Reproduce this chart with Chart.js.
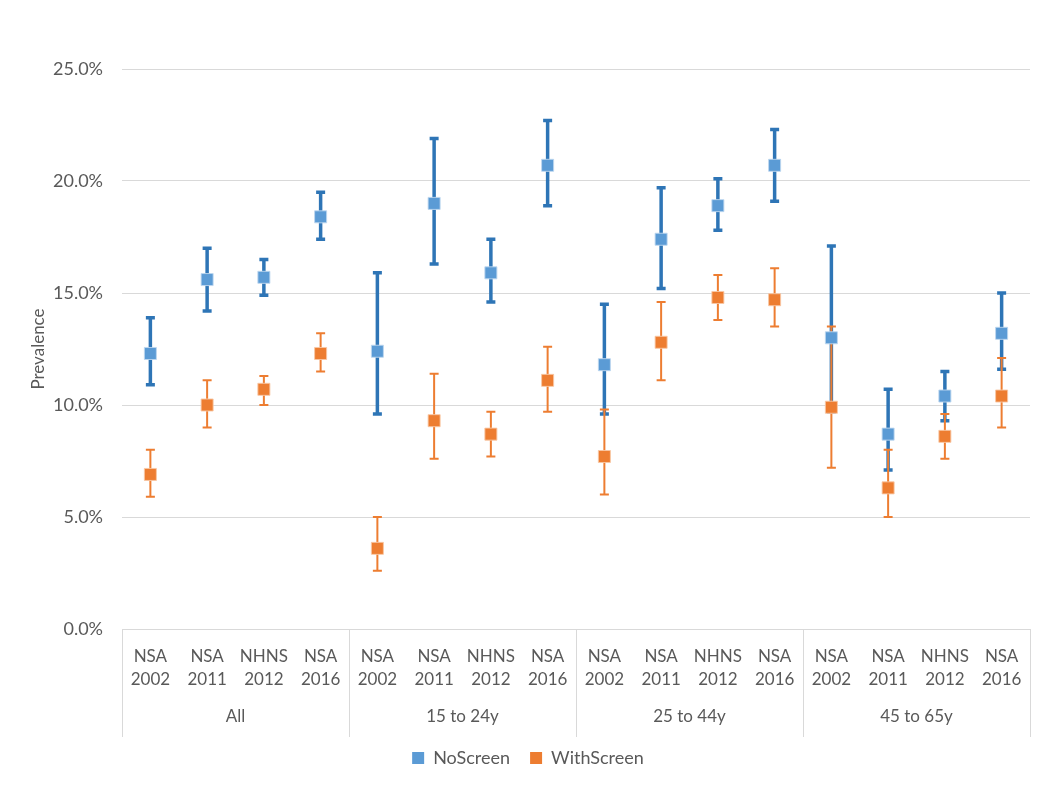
<!DOCTYPE html>
<html>
<head>
<meta charset="utf-8">
<script src="https://cdn.jsdelivr.net/npm/chart.js@4.4.1/dist/chart.umd.min.js"></script>
<style>
  html, body { margin: 0; padding: 0; background: #ffffff; }
  #wrap { width: 1050px; height: 787px; position: relative; }
</style>
</head>
<body>
<div id="wrap"><canvas id="c" width="1050" height="787"></canvas></div>
<script>
const groups = ['All', '15 to 24y', '25 to 44y', '45 to 65y'];
const surveys = [['NSA', '2002'], ['NSA', '2011'], ['NHNS', '2012'], ['NSA', '2016']];
const categories = groups.flatMap(() => surveys.map(s => s.slice()));
const yTicks = [0, 5, 10, 15, 20, 25];

const noScreen      = [12.3, 15.6, 15.7, 18.4, 12.4, 19.0, 15.9, 20.7, 11.8, 17.4, 18.9, 20.7, 13.0, 8.7, 10.4, 13.2];
const noScreenLow   = [10.9, 14.2, 14.9, 17.4,  9.6, 16.3, 14.6, 18.9,  9.6, 15.2, 17.8, 19.1,  9.7, 7.1,  9.3, 11.6];
const noScreenHigh  = [13.9, 17.0, 16.5, 19.5, 15.9, 21.9, 17.4, 22.7, 14.5, 19.7, 20.1, 22.3, 17.1, 10.7, 11.5, 15.0];

const withScreen     = [6.9, 10.0, 10.7, 12.3, 3.6,  9.3, 8.7, 11.1, 7.7, 12.8, 14.8, 14.7,  9.9, 6.3, 8.6, 10.4];
const withScreenLow  = [5.9,  9.0, 10.0, 11.5, 2.6,  7.6, 7.7,  9.7, 6.0, 11.1, 13.8, 13.5,  7.2, 5.0, 7.6,  9.0];
const withScreenHigh = [8.0, 11.1, 11.3, 13.2, 5.0, 11.4, 9.7, 12.6, 9.8, 14.6, 15.8, 16.1, 13.5, 8.0, 9.6, 12.1];

const FONT = 'Lato, "Open Sans", sans-serif';
const TXT = '#595959';
const GRID = '#d9d9d9';

const errorBarPlugin = {
  id: 'errorBars',
  beforeDatasetsDraw(chart) {
    const ctx = chart.ctx;
    const xs = chart.scales.x, ys = chart.scales.y;
    chart.data.datasets.forEach((ds, di) => {
      if (!chart.isDatasetVisible(di)) return;
      const eb = ds.errorBars;
      ctx.save();
      ctx.strokeStyle = eb.color;
      ctx.lineCap = 'butt';
      ds.data.forEach((v, i) => {
        const x = xs.getPixelForValue(i);
        const yl = ys.getPixelForValue(eb.low[i]);
        const yh = ys.getPixelForValue(eb.high[i]);
        ctx.lineWidth = eb.width;
        ctx.beginPath();
        ctx.moveTo(x, yl); ctx.lineTo(x, yh);
        ctx.stroke();
        ctx.lineWidth = eb.capThick;
        ctx.beginPath();
        ctx.moveTo(x - eb.cap / 2, yl); ctx.lineTo(x + eb.cap / 2, yl);
        ctx.moveTo(x - eb.cap / 2, yh); ctx.lineTo(x + eb.cap / 2, yh);
        ctx.stroke();
      });
      ctx.restore();
    });
  }
};

const groupLinesPlugin = {
  id: 'groupLines',
  afterLayout(chart) {
    // nudge legend up so it sits just below the category box
    if (chart.legend) { chart.legend.top -= 8; chart.legend.bottom -= 8; }
  },
  afterDraw(chart) {
    const ctx = chart.ctx;
    const xs = chart.scales.x, x2 = chart.scales.x2;
    const per = surveys.length;
    ctx.save();
    ctx.strokeStyle = GRID;
    ctx.lineWidth = 1;
    for (let g = 0; g <= groups.length; g++) {
      let px;
      if (g === 0) px = xs.left;
      else if (g === groups.length) px = xs.right;
      else px = (xs.getPixelForTick(g * per - 1) + xs.getPixelForTick(g * per)) / 2;
      px = Math.round(px) + 0.5;
      ctx.beginPath();
      ctx.moveTo(px, xs.top);
      ctx.lineTo(px, x2.bottom);
      ctx.stroke();
    }
    ctx.restore();
  }
};

new Chart(document.getElementById('c'), {
  type: 'line',
  data: {
    labels: categories,
    datasets: [
      {
        label: 'NoScreen',
        data: noScreen,
        showLine: false,
        backgroundColor: '#5B9BD5',
        borderColor: '#5B9BD5',
        borderWidth: 0,
        pointStyle: 'rect',
        pointRadius: 8.5,
        pointHoverRadius: 8.5,
        pointBackgroundColor: '#5B9BD5',
        pointBorderColor: 'rgba(190,215,240,0.9)',
        pointBorderWidth: 1,
        errorBars: { low: noScreenLow, high: noScreenHigh, color: '#2E75B6', width: 3.5, cap: 9, capThick: 3.5 }
      },
      {
        label: 'WithScreen',
        data: withScreen,
        showLine: false,
        backgroundColor: '#ED7D31',
        borderColor: '#ED7D31',
        borderWidth: 0,
        pointStyle: 'rect',
        pointRadius: 8.5,
        pointHoverRadius: 8.5,
        pointBackgroundColor: '#ED7D31',
        pointBorderColor: 'rgba(248,200,165,0.9)',
        pointBorderWidth: 1,
        errorBars: { low: withScreenLow, high: withScreenHigh, color: '#ED7D31', width: 2, cap: 9, capThick: 2 }
      }
    ]
  },
  options: {
    responsive: false,
    animation: false,
    devicePixelRatio: 1,
    layout: { padding: { top: 69, right: 20, left: 26, bottom: 2 } },
    plugins: {
      legend: {
        position: 'bottom',
        labels: {
          boxWidth: 12,
          boxHeight: 12,
          padding: 20,
          color: TXT,
          font: { family: FONT, size: 18 }
        }
      },
      tooltip: { enabled: false },
      title: { display: false }
    },
    scales: {
      x: {
        type: 'category',
        offset: true,
        afterFit(scale) { scale.height = 62; },
        grid: { display: false, drawTicks: false },
        border: { display: true, color: GRID },
        ticks: {
          color: TXT,
          padding: 16.5,
          maxRotation: 0,
          autoSkip: false,
          font: { family: FONT, size: 17, lineHeight: 1.35 }
        }
      },
      x2: {
        type: 'category',
        position: 'bottom',
        labels: groups,
        offset: true,
        afterFit(scale) { scale.height = 46; },
        grid: { display: false, drawTicks: false },
        border: { display: false },
        ticks: {
          color: TXT,
          padding: 14.5,
          maxRotation: 0,
          autoSkip: false,
          font: { family: FONT, size: 17, lineHeight: 1.35 }
        }
      },
      y: {
        min: yTicks[0],
        max: yTicks[yTicks.length - 1],
        afterBuildTicks(scale) { scale.ticks = yTicks.map(v => ({ value: v })); },
        afterFit(scale) { scale.width = 96; },
        grid: { color: GRID, lineWidth: 1, drawTicks: false },
        border: { display: false },
        title: {
          display: true,
          text: 'Prevalence',
          color: TXT,
          padding: { top: 2, bottom: 4 },
          font: { family: FONT, size: 17 }
        },
        ticks: {
          color: TXT,
          padding: 19,
          font: { family: FONT, size: 18 },
          callback: v => Number(v).toFixed(1) + '%'
        }
      }
    }
  },
  plugins: [errorBarPlugin, groupLinesPlugin]
});
</script>
</body>
</html>
